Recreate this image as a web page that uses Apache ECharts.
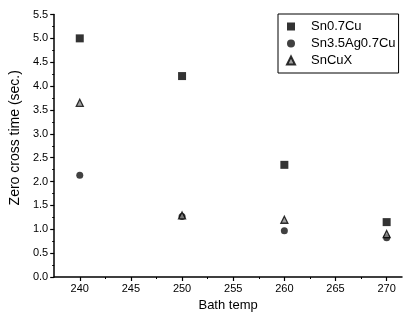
<!DOCTYPE html>
<html>
<head>
<meta charset="utf-8">
<script src="https://cdn.jsdelivr.net/npm/echarts@6/dist/echarts.min.js"></script>
<style>html,body{margin:0;padding:0;background:#fff;}#c{width:410px;height:320px;}</style>
</head>
<body>
<div id="c"></div>
<script>
var temps = [240, 250, 260, 270];
var sn07cu = [5.0, 4.21, 2.35, 1.15];
var sn35ag = [2.13, 1.27, 0.97, 0.82];
var sncux = [3.65, 1.29, 1.2, 0.9];
var xTickLabels = [240, 245, 250, 255, 260, 265, 270];
var xMinorTicks = [242.5, 247.5, 252.5, 257.5, 262.5, 267.5];
var seriesNames = ['Sn0.7Cu', 'Sn3.5Ag0.7Cu', 'SnCuX'];

function pairs(vals) { return temps.map(function (t, i) { return [t, vals[i]]; }); }

var font = 'Liberation Sans, Arial, sans-serif';
var chart = echarts.init(document.getElementById('c'), null, {renderer: 'canvas'});
chart.setOption({
  animation: false,
  backgroundColor: '#fff',
  grid: {left: 53, right: 8, top: 14.5, bottom: 43, containLabel: false},
  legend: {
    orient: 'vertical', left: 278, top: 14,
    borderColor: '#000', borderWidth: 1, borderRadius: 0,
    padding: [6, 3, 6, 8], itemGap: 4, itemWidth: 8, itemHeight: 8,
    textStyle: {fontFamily: font, fontSize: 13, color: '#000', padding: [0, 0, 0, 11]},
    data: seriesNames
  },
  xAxis: [{
    type: 'value', min: 237.5, max: 271.5,
    name: 'Bath temp', nameLocation: 'middle', nameGap: 17,
    nameTextStyle: {fontFamily: font, fontSize: 13, color: '#000'},
    axisLine: {show: true, lineStyle: {color: '#000', width: 1.5}},
    axisTick: {show: true, length: 4, lineStyle: {color: '#000', width: 1.2}, customValues: xTickLabels},
    axisLabel: {fontFamily: font, fontSize: 11, color: '#000', margin: 6, customValues: xTickLabels},
    splitLine: {show: false}
  }, {
    type: 'value', min: 237.5, max: 271.5, position: 'bottom',
    axisLine: {show: false},
    axisTick: {show: true, length: 2, lineStyle: {color: '#000', width: 1}, customValues: xMinorTicks},
    axisLabel: {show: false},
    splitLine: {show: false}
  }],
  yAxis: {
    type: 'value', min: 0, max: 5.5, interval: 0.5,
    name: 'Zero cross time (sec.)', nameLocation: 'middle', nameGap: 30,
    nameTextStyle: {fontFamily: font, fontSize: 14, color: '#000', padding: [0, 0, 0, 16]},
    axisLine: {show: true, lineStyle: {color: '#000', width: 1.5}},
    axisTick: {show: true, length: 4, lineStyle: {color: '#000', width: 1.2}},
    minorTick: {show: true, splitNumber: 2, length: 2, lineStyle: {color: '#000', width: 1}},
    axisLabel: {fontFamily: font, fontSize: 11, color: '#000', margin: 6,
      formatter: function (v) { return v.toFixed(1); }},
    splitLine: {show: false}
  },
  series: [{
    name: seriesNames[0], type: 'scatter', symbol: 'rect', symbolSize: 8,
    itemStyle: {color: '#000'}, data: pairs(sn07cu)
  }, {
    name: seriesNames[1], type: 'scatter', symbol: 'circle', symbolSize: 7,
    itemStyle: {color: '#111'}, data: pairs(sn35ag)
  }, {
    name: seriesNames[2], type: 'scatter', symbol: 'triangle', symbolSize: 7,
    itemStyle: {color: '#888', borderColor: '#000', borderWidth: 1.3}, data: pairs(sncux)
  }]
});
</script>
</body>
</html>
